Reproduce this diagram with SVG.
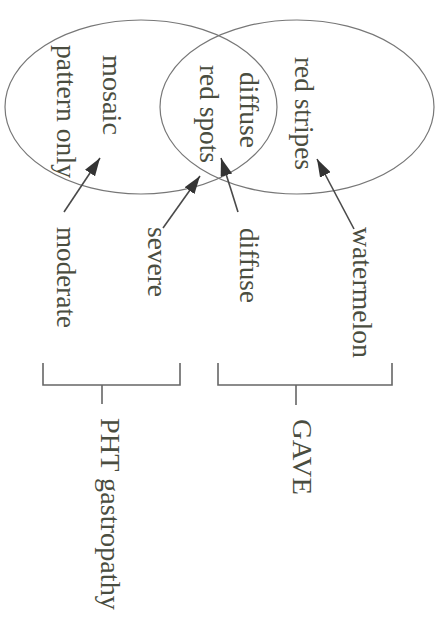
<svg xmlns="http://www.w3.org/2000/svg" width="445" height="617" viewBox="0 0 445 617">
<style>
.e{fill:none;stroke:#777;stroke-width:1.2}
.t{font-family:"Liberation Serif","Times New Roman",serif;font-size:28px;fill:#4a4d40}
.a{stroke:#4a4a4a;stroke-width:1.6;fill:none;marker-end:url(#ah)}
.b{stroke:#666;stroke-width:1.6;fill:none}
</style>
<defs>
<marker id="ah" viewBox="0 0 18 12" refX="18" refY="6" markerWidth="18" markerHeight="12" markerUnits="userSpaceOnUse" orient="auto">
<path d="M0,0 L18,6 L0,12 z" fill="#333"/>
</marker>
</defs>
<rect width="445" height="617" fill="#fff"/>
<g id="pht-circle"><ellipse class="e" cx="141" cy="107" rx="136" ry="87"/></g>
<g id="gave-circle"><ellipse class="e" cx="297" cy="107" rx="137" ry="87"/></g>
<g id="mosaic"><text class="t" transform="translate(103,55) rotate(90)" textLength="80" lengthAdjust="spacingAndGlyphs">mosaic</text></g>
<g id="pattern-only"><text class="t" transform="translate(57,45) rotate(90)" textLength="133" lengthAdjust="spacingAndGlyphs">pattern only</text></g>
<g id="red-spots"><text class="t" transform="translate(200,65) rotate(90)" textLength="98" lengthAdjust="spacingAndGlyphs">red spots</text></g>
<g id="diffuse-in"><text class="t" transform="translate(240,72) rotate(90)" textLength="76" lengthAdjust="spacingAndGlyphs">diffuse</text></g>
<g id="red-stripes"><text class="t" transform="translate(295,57) rotate(90)" textLength="113" lengthAdjust="spacingAndGlyphs">red stripes</text></g>
<g id="moderate"><text class="t" transform="translate(57,227) rotate(90)" textLength="101" lengthAdjust="spacingAndGlyphs">moderate</text></g>
<g id="severe"><text class="t" transform="translate(148,227) rotate(90)" textLength="70" lengthAdjust="spacingAndGlyphs">severe</text></g>
<g id="diffuse-out"><text class="t" transform="translate(240,228) rotate(90)" textLength="75" lengthAdjust="spacingAndGlyphs">diffuse</text></g>
<g id="watermelon"><text class="t" transform="translate(353,227) rotate(90)" textLength="131" lengthAdjust="spacingAndGlyphs">watermelon</text></g>
<g id="pht-label"><text class="t" transform="translate(101,418) rotate(90)" textLength="192" lengthAdjust="spacingAndGlyphs">PHT gastropathy</text></g>
<g id="gave-label"><text class="t" transform="translate(293,419) rotate(90)" textLength="76" lengthAdjust="spacingAndGlyphs">GAVE</text></g>
<g id="connectors">
<line class="a" x1="64" y1="212" x2="100" y2="158"/>
<line class="a" x1="163" y1="228" x2="200" y2="176"/>
<line class="a" x1="238" y1="212" x2="221" y2="158"/>
<line class="a" x1="354" y1="229" x2="317" y2="159"/>
<path class="b" d="M43,363 V385 H180 V363 M102,385 V404"/>
<path class="b" d="M218,363 V385 H392 V363 M296,385 V405"/>
</g>
</svg>
